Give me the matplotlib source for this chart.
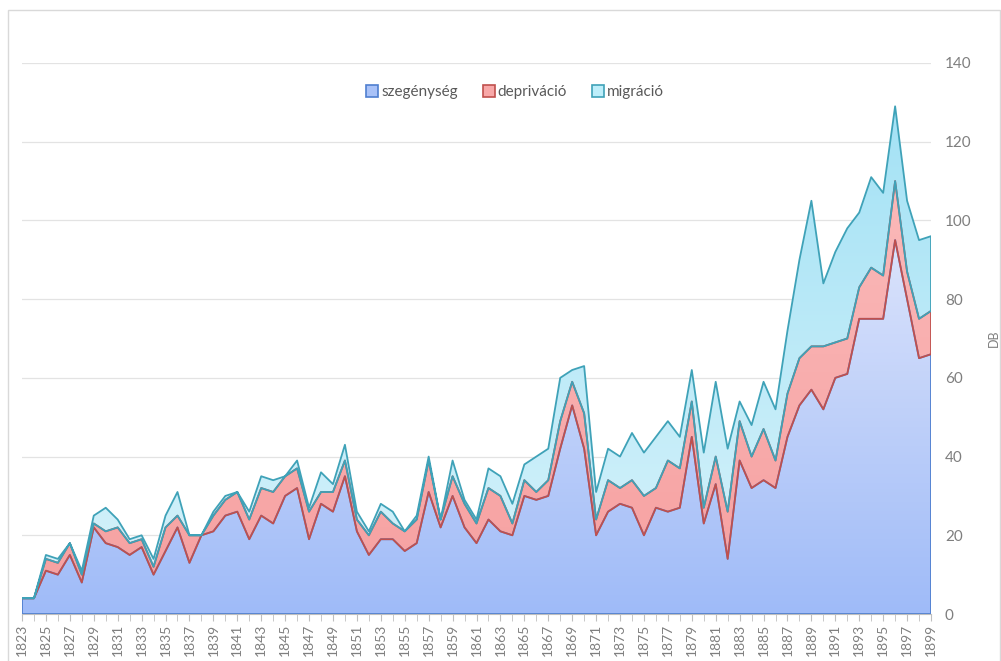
import matplotlib
matplotlib.use("Agg")
import matplotlib.pyplot as plt
import numpy as np
from matplotlib.colors import LinearSegmentedColormap
from matplotlib.patches import Rectangle
from matplotlib.lines import Line2D

years = list(range(1823, 1900))
szegenyseg = [4, 4, 11, 10, 15, 8, 22, 18, 17, 15, 17, 10, 16, 22, 13, 20, 21, 25, 26, 19,
              25, 23, 30, 32, 19, 28, 26, 35, 21, 15, 19, 19, 16, 18, 31, 22, 30, 22, 18, 24,
              21, 20, 30, 29, 30, 42, 53, 42, 20, 26, 28, 27, 20, 27, 26, 27, 45, 23, 33, 14,
              39, 32, 34, 32, 45, 53, 57, 52, 60, 61, 75, 75, 75, 95, 80, 65, 66]
deprivacio = [0, 0, 3, 3, 3, 2, 1, 3, 5, 3, 2, 2, 6, 3, 7, 0, 4, 4, 5, 5,
              7, 8, 5, 5, 7, 3, 5, 4, 3, 5, 7, 4, 5, 6, 8, 2, 5, 6, 5, 8,
              9, 3, 4, 2, 4, 7, 6, 9, 4, 8, 4, 7, 10, 5, 13, 10, 9, 4, 7, 12,
              10, 8, 13, 7, 11, 12, 11, 16, 9, 9, 8, 13, 11, 15, 7, 10, 11]
migracio = [0, 0, 1, 1, 0, 1, 2, 6, 2, 1, 1, 2, 3, 6, 0, 0, 1, 1, 0, 2,
            3, 3, 0, 2, 1, 5, 2, 4, 2, 1, 2, 3, 0, 1, 1, 0, 4, 1, 1, 5,
            5, 5, 4, 9, 8, 11, 3, 12, 7, 8, 8, 12, 11, 13, 10, 8, 8, 14, 19, 16,
            5, 8, 12, 13, 16, 25, 37, 16, 23, 28, 19, 23, 21, 19, 18, 20, 19]
series_names = ["szegénység", "depriváció", "migráció"]
year_labels = [str(y) for y in years[::2]]

x = np.array(years)
s1 = np.array(szegenyseg)
s2 = s1 + np.array(deprivacio)
s3 = s2 + np.array(migracio)

fig = plt.figure(figsize=(10.01, 6.61), dpi=100)
ax = fig.add_axes([22 / 1001, 1 - 614 / 661, 909 / 1001, 551 / 661])
ax.set_xlim(1823, 1899)
ax.set_ylim(0, 140)

txt = "#7f7f7f"
font = "Lato"


def gradient_fill(lower, upper, c_top, c_bottom):
    poly = ax.fill_between(x, lower, upper, color="none", linewidth=0)
    cmap = LinearSegmentedColormap.from_list("g", [c_bottom, c_top])
    grad = np.linspace(0, 1, 256).reshape(-1, 1)
    top = upper.max()
    im = ax.imshow(grad, extent=[1823, 1899, 0, top], origin="lower",
                   aspect="auto", cmap=cmap, zorder=1, interpolation="bicubic")
    im.set_clip_path(poly.get_paths()[0], transform=ax.transData)
    return im


gradient_fill(np.zeros_like(s1), s1, "#dbe3fb", "#9fbbf8")
gradient_fill(s1, s2, "#fbb9b9", "#f6a0a0")
gradient_fill(s2, s3, "#a4e2f5", "#d8f3fb")

# outlines in series order so later layers cover earlier edges
ax.fill_between(x, 0, s1, facecolor="none", edgecolor="#4f7fd0", linewidth=1.3, zorder=3)
ax.fill_between(x, s1, s2, facecolor="none", edgecolor="#c0504d", linewidth=1.3, zorder=4)
ax.fill_between(x, s2, s3, facecolor="none", edgecolor="#3fa2b8", linewidth=1.3, zorder=5)

for v in range(20, 141, 20):
    ax.axhline(v, color="#e3e3e3", linewidth=0.9, zorder=0)

for side in ["left", "top", "right"]:
    ax.spines[side].set_visible(False)
ax.spines["bottom"].set_color("#bfbfbf")
ax.spines["bottom"].set_zorder(6)

ax.yaxis.tick_right()
ax.set_yticks(range(0, 141, 20))
ax.tick_params(axis="y", length=0, pad=10, labelsize=11, labelcolor=txt)
ax.set_xticks(years[::2])
ax.set_xticklabels(year_labels, rotation=90)
ax.set_xticks(years, minor=True)
ax.tick_params(axis="x", which="both", length=5, color="#bfbfbf", direction="out",
               labelsize=10, labelcolor=txt, pad=2)
for lab in ax.get_xticklabels() + ax.get_yticklabels():
    lab.set_fontfamily(font)

ax.yaxis.set_label_position("right")
ax.set_ylabel("DB", color=txt, fontsize=9, family=font, labelpad=12)

handles = [
    Line2D([], [], marker="s", linestyle="none", markersize=8,
           markerfacecolor="#a9c2f8", markeredgecolor="#4f7fd0", markeredgewidth=1.2),
    Line2D([], [], marker="s", linestyle="none", markersize=8,
           markerfacecolor="#f8a8a8", markeredgecolor="#c0504d", markeredgewidth=1.2),
    Line2D([], [], marker="s", linestyle="none", markersize=8,
           markerfacecolor="#bdeefa", markeredgecolor="#3fa2b8", markeredgewidth=1.2),
]
leg = ax.legend(handles, series_names, loc="center", bbox_to_anchor=(515 / 1001, 1 - 92 / 661),
                bbox_transform=fig.transFigure, ncol=3, frameon=False,
                handlelength=0.8, handletextpad=0.2, columnspacing=1.6,
                prop={"family": font, "size": 11})
for t in leg.get_texts():
    t.set_color("#595959")

fig.patches.append(Rectangle((8 / 1001, -0.01), 992 / 1001, 1 - 10 / 661 + 0.01,
                             transform=fig.transFigure, fill=False,
                             edgecolor="#d9d9d9", linewidth=1))

fig.savefig("out.png", dpi=100)
